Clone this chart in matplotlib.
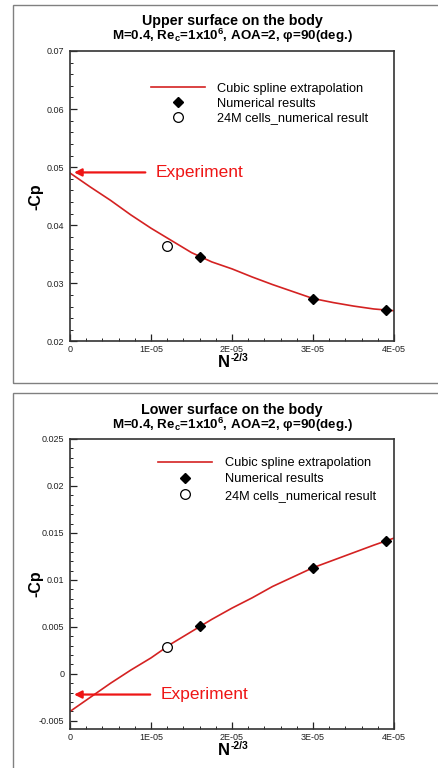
import matplotlib
matplotlib.use('Agg')
import matplotlib.pyplot as plt
from matplotlib.patches import Rectangle
from matplotlib.ticker import MultipleLocator, FuncFormatter

plt.rcParams['font.family'] = ['Liberation Sans', 'DejaVu Sans']
plt.rcParams['mathtext.fontset'] = 'custom'
plt.rcParams['mathtext.rm'] = 'Liberation Sans'
plt.rcParams['mathtext.bf'] = 'Liberation Sans:bold'
plt.rcParams['mathtext.it'] = 'Liberation Sans:italic'

# 数据 (x 单位: N^-2/3)
spline_x = [0.0, 0.25e-5, 0.5e-5, 0.75e-5, 1.0e-5, 1.25e-5, 1.5e-5, 1.75e-5, 2.0e-5,
            2.25e-5, 2.5e-5, 2.75e-5, 3.0e-5, 3.25e-5, 3.5e-5, 3.75e-5, 4.0e-5]

# 上表面
upper_spline = [0.0490, 0.0466, 0.0443, 0.0418, 0.0395, 0.0374, 0.0353, 0.0337, 0.0325,
                0.0311, 0.0298, 0.0286, 0.0274, 0.0267, 0.0261, 0.0256, 0.0253]
upper_num_x = [1.6e-5, 3.0e-5, 3.9e-5]
upper_num_y = [0.0345, 0.0274, 0.0255]
upper_24m_x = [1.2e-5]
upper_24m_y = [0.0365]
upper_exp = 0.0491

# 下表面
lower_spline = [-0.0040, -0.0025, -0.0010, 0.0004, 0.0017, 0.0032, 0.0045, 0.0058, 0.0070,
                0.0081, 0.0093, 0.0103, 0.0113, 0.0121, 0.0129, 0.0137, 0.01445]
lower_num_x = [1.6e-5, 3.0e-5, 3.9e-5]
lower_num_y = [0.0051, 0.0113, 0.0141]
lower_24m_x = [1.2e-5]
lower_24m_y = [0.0029]
lower_exp = -0.0022

W, H = 438, 768
fig = plt.figure(figsize=(W / 100, H / 100), dpi=100)

curve_color = '#d42222'
arrow_color = '#ee1515'


def px(x0, y_top, w, h):
    return [x0 / W, 1 - (y_top + h) / H, w / W, h / H]


def xfmt(v, pos):
    if abs(v) < 1e-12:
        return '0'
    return '%dE-05' % round(v / 1e-5)


def draw_panel(ax, title, spline_y, num_x, num_y, m_x, m_y, exp_y, ylim, ymajor, yminor,
               yfmt, leg_anchor, leg_spacing, text_x, tail_x, title_y):
    ax.plot(spline_x, spline_y, color=curve_color, lw=1.2, label='Cubic spline extrapolation')
    ax.plot(num_x, num_y, 'D', color='black', ms=5, label='Numerical results')
    ax.plot(m_x, m_y, 'o', mfc='white', mec='black', mew=0.9, ms=7,
            label='24M cells_numerical result')
    ax.set_xlim(0, 4e-5)
    ax.set_ylim(*ylim)
    ax.xaxis.set_major_locator(MultipleLocator(1e-5))
    ax.xaxis.set_minor_locator(MultipleLocator(2e-6))
    ax.yaxis.set_major_locator(MultipleLocator(ymajor))
    ax.yaxis.set_minor_locator(MultipleLocator(yminor))
    ax.xaxis.set_major_formatter(FuncFormatter(xfmt))
    ax.yaxis.set_major_formatter(FuncFormatter(yfmt))
    ax.tick_params(which='both', direction='in', top=False, right=False,
                   labelsize=6.5, colors='#222222')
    ax.tick_params(which='major', length=5, width=0.9)
    ax.tick_params(which='minor', length=2.5, width=0.7)
    ax.tick_params(axis='y', pad=4)
    ax.tick_params(axis='x', pad=2.5)
    for s in ax.spines.values():
        s.set_linewidth(1.2)
        s.set_color('#333333')

    ax.set_ylabel('-Cp', fontsize=11.5, fontweight='bold')
    ax.yaxis.set_label_coords(-0.105, 0.5)
    ax.yaxis.label.set_va('center')
    ax.set_xlabel('N', fontsize=12, fontweight='bold')
    ax.xaxis.set_label_coords(0.476, -0.074)
    ax.xaxis.label.set_va('center')
    ax.text(0.497, -0.056, '-2/3', transform=ax.transAxes, fontsize=7.5,
            fontweight='bold', ha='left', va='center')

    ax.legend(loc='upper left', bbox_to_anchor=leg_anchor, frameon=False, fontsize=9.2,
              handlelength=4.2, handletextpad=1.0, labelspacing=leg_spacing,
              borderpad=0, borderaxespad=0, numpoints=1)

    # Experiment 箭头
    ax.annotate('', xy=(0.05e-5, exp_y), xytext=(tail_x, exp_y),
                arrowprops=dict(arrowstyle='-|>', color=arrow_color, lw=1.6,
                                mutation_scale=11, shrinkA=0, shrinkB=0))
    ax.text(text_x, exp_y, 'Experiment', color=arrow_color, fontsize=12.5,
            ha='left', va='center')

    fig.text(232 / W, 1 - title_y / H, title, ha='center', va='center',
             fontsize=10.3, fontweight='bold')
    fig.text(232 / W, 1 - (title_y + 15) / H,
             r'M=0.4, Re$_{\mathbf{c}}$=1x10$^{\mathbf{6}}$, AOA=2, φ=90(deg.)',
             ha='center', va='center', fontsize=9.6, fontweight='bold')


# 外框
fig.add_artist(Rectangle((13 / W, 1 - 383 / H), 1, 378 / H, transform=fig.transFigure,
                         fill=False, edgecolor='#808080', lw=1))
fig.add_artist(Rectangle((13 / W, -0.1), 1, 0.1 + 1 - 393 / H, transform=fig.transFigure,
                         fill=False, edgecolor='#808080', lw=1))

ax1 = fig.add_axes(px(70, 51, 324, 290.5))
draw_panel(ax1, 'Upper surface on the body', upper_spline, upper_num_x, upper_num_y,
           upper_24m_x, upper_24m_y, upper_exp, (0.02, 0.07), 0.01, 0.002,
           lambda v, p: '%.2f' % v, (0.25, 0.89), 0.2, 1.06e-5, 0.93e-5, 21)

ax2 = fig.add_axes(px(70, 439, 324, 290.3))
draw_panel(ax2, 'Lower surface on the body', lower_spline, lower_num_x, lower_num_y,
           lower_24m_x, lower_24m_y, lower_exp, (-0.0059, 0.025), 0.005, 0.001,
           lambda v, p: '0' if abs(v) < 1e-9 else ('%.3f' % v).rstrip('0'),
           (0.272, 0.938), 0.35, 1.12e-5, 0.99e-5, 410)

fig.savefig('out.png', dpi=100)
